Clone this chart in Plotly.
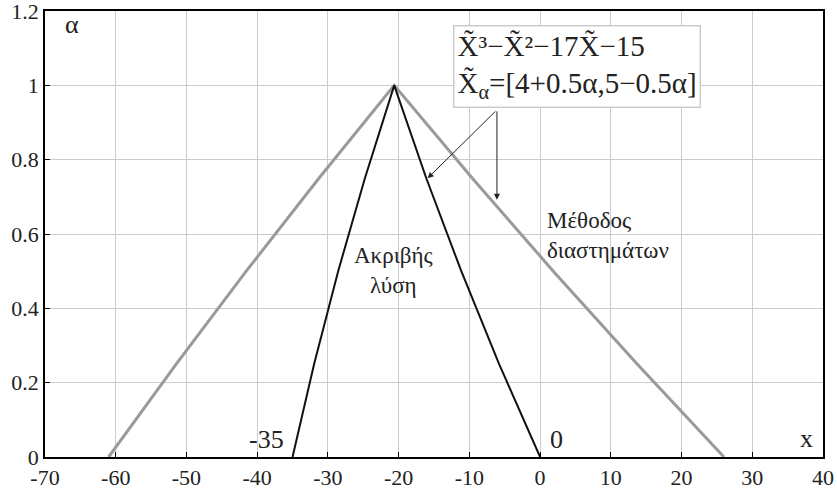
import plotly.graph_objects as go

# membership levels
alpha = [0, 0.25, 0.5, 0.75, 1]

# exact image of the fuzzy number through f(X) = X^3 - X^2 - 17X - 15
exact_left = [-35.0, -31.95, -28.55, -24.77, -20.625]
exact_right = [0.0, -5.79, -11.14, -16.09, -20.625]

# interval-arithmetic result
interval_left = [-61.0, -51.45, -41.55, -31.27, -20.625]
interval_right = [26.0, 13.72, 1.86, -9.58, -20.625]

x_ticks = [-70, -60, -50, -40, -30, -20, -10, 0, 10, 20, 30, 40]
x_tick_text = ["-70", "-60", "-50", "-40", "-30", "-20", "-10", "0", "10", "20", "30", "40"]
y_ticks = [0, 0.2, 0.4, 0.6, 0.8, 1, 1.2]
y_tick_text = ["0", "0.2", "0.4", "0.6", "0.8", "1", "1.2"]

SERIF = "Liberation Serif"
INK = "#222222"

fig = go.Figure()

fig.add_trace(go.Scatter(
    x=interval_left + interval_right[::-1][1:],
    y=alpha + alpha[::-1][1:],
    mode="lines", line=dict(color="#9a9a9a", width=3), showlegend=False,
))
fig.add_trace(go.Scatter(
    x=exact_left + exact_right[::-1][1:],
    y=alpha + alpha[::-1][1:],
    mode="lines", line=dict(color="#111111", width=2), showlegend=False,
))

axis_common = dict(
    showgrid=True, gridcolor="#cccccc", gridwidth=1,
    showline=True, linecolor="black", linewidth=1.5, mirror=True,
    ticks="inside", ticklen=5, tickcolor="black",
    tickfont=dict(family=SERIF, size=22, color=INK),
    zeroline=False, automargin=False, ticklabeloverflow="allow",
)
fig.update_xaxes(range=[-70, 40], tickvals=x_ticks, ticktext=x_tick_text, ticklabelstandoff=0, **axis_common)
fig.update_yaxes(range=[0, 1.2], tickvals=y_ticks, ticktext=y_tick_text, **axis_common)

txt = dict(family=SERIF, size=23, color=INK)
big = dict(family=SERIF, size=26, color=INK)
annotations = [
    dict(x=-66.2, y=1.165, text="α", showarrow=False, font=big),
    dict(x=5.2, y=1.051,
         text="X̃³−X̃²−17X̃−15<br>X̃<sub>α</sub>=[4+0.5α,5−0.5α]",
         showarrow=False, align="left", font=dict(family=SERIF, size=29, color=INK),
         bgcolor="white", bordercolor="#cccccc", borderwidth=1.5, borderpad=3),
    dict(x=-15.9, y=0.75, ax=-6.1, ay=0.934, axref="x", ayref="y",
         text="", showarrow=True, arrowhead=2, arrowsize=1.2, arrowwidth=1, arrowcolor=INK),
    dict(x=-6.1, y=0.692, ax=-6.1, ay=0.934, axref="x", ayref="y",
         text="", showarrow=True, arrowhead=2, arrowsize=1.2, arrowwidth=1, arrowcolor=INK),
    dict(x=-20.7, y=0.503, text="Ακριβής<br>λύση", showarrow=False, font=txt),
    dict(x=0.7, y=0.596, text="Μέθοδος<br>διαστημάτων", showarrow=False, align="left",
         xanchor="left", font=txt),
    dict(x=-38.75, y=0.048, text="-35", showarrow=False, font=big),
    dict(x=1.1, y=0.048, text="0", showarrow=False, font=big, xanchor="left"),
    dict(x=37.7, y=0.051, text="x", showarrow=False, font=big),
]

fig.update_layout(
    width=837, height=488,
    margin=dict(l=45, r=14, t=11, b=31),
    plot_bgcolor="white", paper_bgcolor="white",
    annotations=annotations,
)

fig.write_html("out.html")
